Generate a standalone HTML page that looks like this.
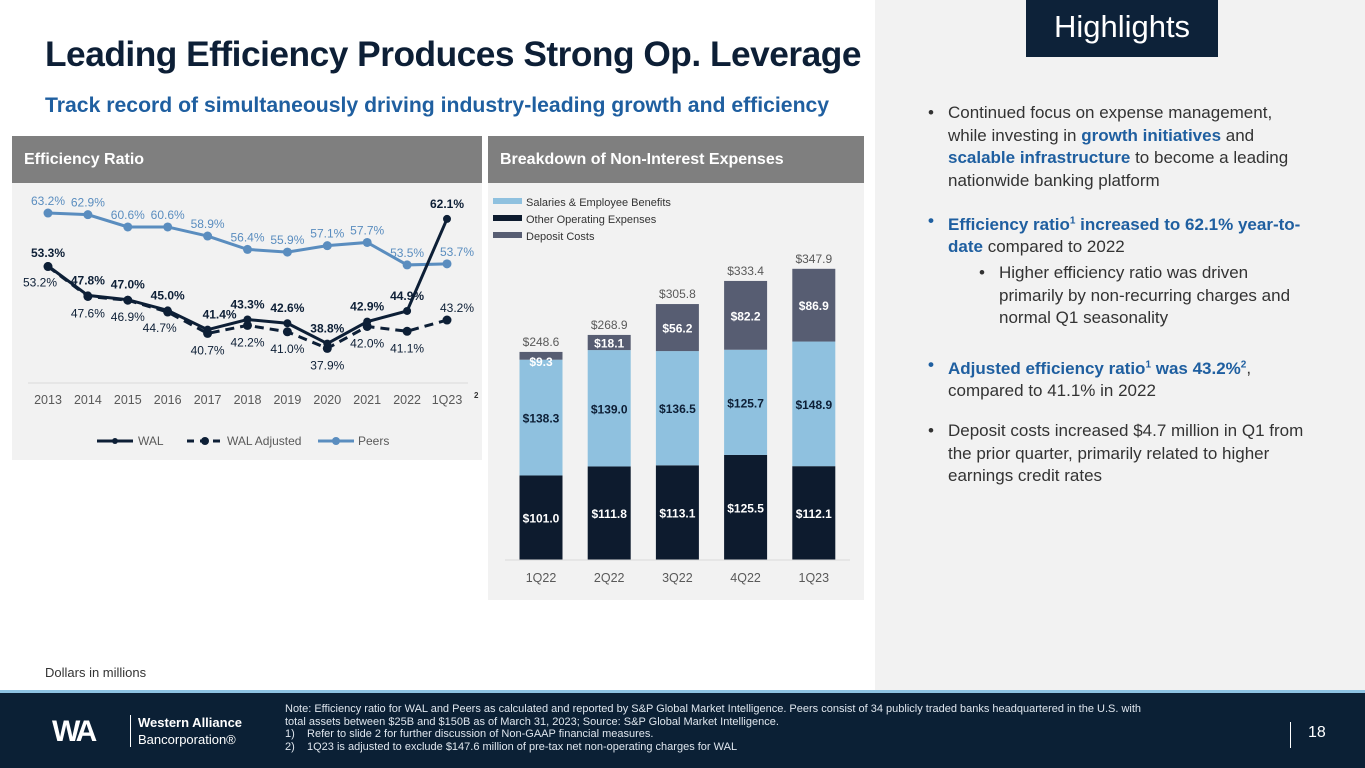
<!DOCTYPE html>
<html><head><meta charset="utf-8"><style>
body{margin:0;width:1365px;height:768px;overflow:hidden;background:#fff;font-family:"Liberation Sans",sans-serif;position:relative}
.abs{position:absolute}
h1{position:absolute;left:45px;top:35px;margin:0;font-size:35.3px;font-weight:bold;color:#0d1f36;letter-spacing:-0.5px;white-space:nowrap}
.sub{left:45px;top:94px;font-size:21.2px;font-weight:bold;color:#1f5fa0;white-space:nowrap}
.ph{background:#7f7f7f;color:#fff;font-size:16px;font-weight:bold;padding-left:12px;line-height:47px;height:47px}
.right{left:875px;top:0;width:490px;height:690px;background:#f2f2f2}
.hl{left:1026px;top:0;width:192px;height:57px;background:#0d2239;color:#fff;font-size:31px;text-align:center;line-height:54px}
.bul{left:948px;width:358px;font-size:17px;color:#333;line-height:22.5px}
.bul b{color:#1f5fa0}
.footer{left:0;top:690px;width:1365px;height:78px;background:#0b2035;border-top:3px solid #8dc3e3;box-sizing:border-box}
svg text{font-family:"Liberation Sans",sans-serif}
</style></head><body>
<h1>Leading Efficiency Produces Strong Op. Leverage</h1>
<div class="abs sub">Track record of simultaneously driving industry-leading growth and efficiency</div>

<div class="abs" style="left:12px;top:136px;width:470px;height:324px;background:#f2f2f2">
<div class="ph">Efficiency Ratio</div>
</div>
<div class="abs" style="left:488px;top:136px;width:376px;height:464px;background:#f2f2f2">
<div class="ph">Breakdown of Non-Interest Expenses</div>
</div>

<svg class="abs" style="left:0;top:0" width="875" height="690" id="charts"></svg>

<div class="abs" style="left:45px;top:665px;font-size:13px;color:#333">Dollars in millions</div>

<div class="abs right"></div>
<div class="abs hl">Highlights</div>
<div class="abs bul" style="top:102px"><span style="position:absolute;left:-20px">•</span>Continued focus on expense management, while investing in <b>growth initiatives</b> and <b>scalable infrastructure</b> to become a leading nationwide banking platform</div>
<div class="abs bul" style="top:210px"><b><span style="position:absolute;left:-20px">•</span>Efficiency ratio<sup style="font-size:10px">1</sup> increased to 62.1% year-to-date</b> compared to 2022</div>
<div class="abs bul" style="top:262px;left:999px;width:315px"><span style="position:absolute;left:-20px">•</span>Higher efficiency ratio was driven primarily by non-recurring charges and normal Q1 seasonality</div>
<div class="abs bul" style="top:354px"><b><span style="position:absolute;left:-20px">•</span>Adjusted efficiency ratio<sup style="font-size:10px">1</sup> was 43.2%<sup style="font-size:10px">2</sup></b>, compared to 41.1% in 2022</div>
<div class="abs bul" style="top:420px"><span style="position:absolute;left:-20px">•</span>Deposit costs increased $4.7 million in Q1 from the prior quarter, primarily related to higher earnings credit rates</div>

<div class="abs footer">
<div class="abs" style="left:52px;top:22px;font-size:30px;font-weight:bold;color:#fff;letter-spacing:-3px">WA</div>
<div class="abs" style="left:130px;top:22px;width:1px;height:32px;background:#fff"></div>
<div class="abs" style="left:138px;top:21px;color:#fff;font-size:13px;line-height:17px"><b>Western Alliance</b><br>Bancorporation®</div>
<div class="abs" style="left:285px;top:10px;color:#dfe6ee;font-size:11px;line-height:12.5px;width:975px">Note: Efficiency ratio for WAL and Peers as calculated and reported by S&amp;P Global Market Intelligence. Peers consist of 34 publicly traded banks headquartered in the U.S. with<br>total assets between $25B and $150B as of March 31, 2023; Source: S&amp;P Global Market Intelligence.<br>1)&nbsp;&nbsp;&nbsp; Refer to slide 2 for further discussion of Non-GAAP financial measures.<br>2)&nbsp;&nbsp;&nbsp; 1Q23 is adjusted to exclude $147.6 million of pre-tax net non-operating charges for WAL</div>
<div class="abs" style="left:1290px;top:29px;width:1px;height:26px;background:#fff"></div>
<div class="abs" style="left:1308px;top:31px;color:#fff;font-size:16px">18</div>
</div>

<script>
const years=["2013","2014","2015","2016","2017","2018","2019","2020","2021","2022","1Q23"];
const wal=[53.3,47.8,47.0,45.0,41.4,43.3,42.6,38.8,42.9,44.9,62.1];
const walAdj=[53.2,47.6,46.9,44.7,40.7,42.2,41.0,37.9,42.0,41.1,43.2];
const peers=[63.2,62.9,60.6,60.6,58.9,56.4,55.9,57.1,57.7,53.5,53.7];
const quarters=["1Q22","2Q22","3Q22","4Q22","1Q23"];
const other=[101.0,111.8,113.1,125.5,112.1];
const salaries=[138.3,139.0,136.5,125.7,148.9];
const deposit=[9.3,18.1,56.2,82.2,86.9];
const totals=[248.6,268.9,305.8,333.4,347.9];

const NS="http://www.w3.org/2000/svg";
const svg=document.getElementById('charts');
function mk(tag,attrs,txt){const e=document.createElementNS(NS,tag);for(const k in attrs)e.setAttribute(k,attrs[k]);if(txt!==undefined)e.textContent=txt;svg.appendChild(e);return e;}
const lx=i=>48+i*39.9, ly=v=>266-(v-53.3)*5.35;
const axisLine=mk('line',{x1:28,x2:468,y1:383,y2:383,stroke:'#d9d9d9'});


years.forEach((y,i)=>{const t=mk('text',{x:lx(i),y:404,'text-anchor':'middle','font-size':12.5,fill:'#595959'},y);

});
mk('text',{x:474,y:398,'font-size':8,fill:'#333','font-weight':'bold'},'2');
function series(vals,color,dash,name,r){
 const p=mk('polyline',{points:vals.map((v,i)=>lx(i)+','+ly(v)).join(' '),fill:'none',stroke:color,'stroke-width':3,'stroke-dasharray':dash||'none'});
 
 
 vals.forEach((v,i)=>{const c=mk('circle',{cx:lx(i),cy:ly(v),r:r,fill:color});
 
 });
}
series(peers,'#5a8dbf',null,'peers',4.5);
series(walAdj,'#0d1f36','9 6','wal-adjusted',4.5);
series(wal,'#0d1f36',null,'wal',4);
const pOff=[[0,-8],[0,-8],[0,-8],[0,-8],[0,-8],[0,-8],[0,-8],[0,-8],[0,-8],[0,-8],[10,-8]];
peers.forEach((v,i)=>{const t=mk('text',{x:lx(i)+pOff[i][0],y:ly(v)+pOff[i][1],'text-anchor':'middle','font-size':12,fill:'#5a8dbf'},v.toFixed(1)+'%');

});
const wOff=[[0,-9],[0,-11],[0,-11],[0,-11],[12,-11],[0,-11],[0,-11],[0,-11],[0,-11],[0,-11],[0,-11]];
wal.forEach((v,i)=>{const t=mk('text',{x:lx(i)+wOff[i][0],y:ly(v)+wOff[i][1],'text-anchor':'middle','font-size':12,'font-weight':'bold',fill:'#0d1f36'},v.toFixed(1)+'%');

});
const aOff=[[-8,20],[0,21],[0,21],[-8,20],[0,21],[0,21],[0,21],[0,21],[0,21],[0,21],[10,-8]];
walAdj.forEach((v,i)=>{const t=mk('text',{x:lx(i)+aOff[i][0],y:ly(v)+aOff[i][1],'text-anchor':'middle','font-size':12,fill:'#0d1f36'},v.toFixed(1)+'%');

});
mk('line',{x1:97,x2:133,y1:441,y2:441,stroke:'#0d1f36','stroke-width':3});mk('circle',{cx:115,cy:441,r:3,fill:'#0d1f36'});
mk('text',{x:138,y:445,'font-size':12,fill:'#595959'},'WAL');
mk('line',{x1:187,x2:223,y1:441,y2:441,stroke:'#0d1f36','stroke-width':3,'stroke-dasharray':'7 6'});mk('circle',{cx:205,cy:441,r:4,fill:'#0d1f36'});
mk('text',{x:227,y:445,'font-size':12,fill:'#595959'},'WAL Adjusted');
mk('line',{x1:318,x2:354,y1:441,y2:441,stroke:'#5a8dbf','stroke-width':3});mk('circle',{cx:336,cy:441,r:4,fill:'#5a8dbf'});
mk('text',{x:358,y:445,'font-size':12,fill:'#595959'},'Peers');
const bx=i=>541+i*68.2, by=v=>560-v*0.837, bw=43;
quarters.forEach((q,i)=>{
 let base=0;
 [[other,'#0d1b2e','other-opex'],[salaries,'#8fc1df','salaries'],[deposit,'#575d72','deposit-costs']].forEach(([arr,col,nm])=>{
  const r=mk('rect',{x:bx(i)-bw/2,y:by(base+arr[i]),width:bw,height:arr[i]*0.837,fill:col});
  
  
  const mid=by(base+arr[i]/2)+5;
  const lbl=mk('text',{x:bx(i),y:(nm==='deposit-costs'&&arr[i]<10)?by(base+arr[i])+14:mid,'text-anchor':'middle','font-size':12,'font-weight':'bold',fill:nm==='salaries'?'#0d1f36':'#fff'},'$'+arr[i].toFixed(1));
  
  
  base+=arr[i];
 });
 const t=mk('text',{x:bx(i),y:by(totals[i])-6,'text-anchor':'middle','font-size':12,fill:'#595959'},'$'+totals[i].toFixed(1));
 
 
 const xt=mk('text',{x:bx(i),y:582,'text-anchor':'middle','font-size':12.5,fill:'#595959'},q);
 
 
});
mk('line',{x1:505,x2:850,y1:560,y2:560,stroke:'#d9d9d9'});
[['Salaries & Employee Benefits','#8fc1df',202],['Other Operating Expenses','#0d1b2e',219],['Deposit Costs','#575d72',236]].forEach(([l,c,y])=>{
 const r=mk('rect',{x:493,y:y-4,width:29,height:6,fill:c});
 
 
 const t=mk('text',{x:526,y:y+4,'font-size':11,fill:'#333'},l);
 
 
});
</script>
</body></html>
